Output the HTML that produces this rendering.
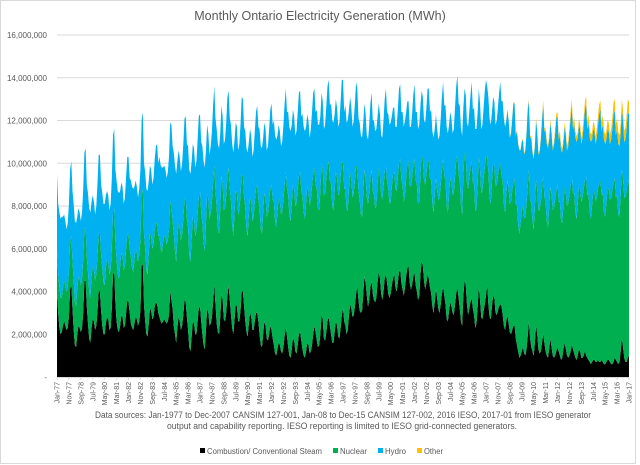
<!DOCTYPE html>
<html><head><meta charset="utf-8"><style>
html,body{margin:0;padding:0;background:#fff;}
#wrap{position:relative;width:640px;height:465px;overflow:hidden;font-family:"Liberation Sans",sans-serif;}
svg text{font-family:"Liberation Sans",sans-serif;}
</style></head><body>
<div id="wrap">
<svg id="chart" width="640" height="465" viewBox="0 0 640 465" xmlns="http://www.w3.org/2000/svg">
<rect x="0.5" y="0.5" width="635" height="463" fill="#fff" stroke="#d9d9d9"/>
<text x="320" y="20" text-anchor="middle" font-size="12.5" fill="#595959">Monthly Ontario Electricity Generation (MWh)</text>
<g id="grid"></g><g id="areas"></g><g id="yticks"></g><g id="xticks"></g>
<text x="343" y="418" text-anchor="middle" font-size="9" fill="#595959" textLength="496" lengthAdjust="spacingAndGlyphs">Data sources: Jan-1977 to Dec-2007 CANSIM 127-001, Jan-08 to Dec-15 CANSIM 127-002, 2016 IESO, 2017-01 from IESO generator</text>
<text x="342" y="429" text-anchor="middle" font-size="9" fill="#595959" textLength="350" lengthAdjust="spacingAndGlyphs">output and capability reporting. IESO reporting is limited to IESO grid-connected generators.</text>
<g>
<g><rect x="200" y="448" width="5" height="5" fill="#000"/><text x="207" y="454" font-size="8" fill="#595959" textLength="115" lengthAdjust="spacingAndGlyphs">Combustion/ Conventional Steam</text></g>
<g><rect x="333" y="448" width="5" height="5" fill="#00b050"/><text x="340" y="454" font-size="8" fill="#595959" textLength="27" lengthAdjust="spacingAndGlyphs">Nuclear</text></g>
<g><rect x="378" y="448" width="5" height="5" fill="#00b0f0"/><text x="385" y="454" font-size="8" fill="#595959" textLength="21" lengthAdjust="spacingAndGlyphs">Hydro</text></g>
<g><rect x="417" y="448" width="5" height="5" fill="#ffc000"/><text x="424" y="454" font-size="8" fill="#595959" textLength="19" lengthAdjust="spacingAndGlyphs">Other</text></g>
</g>
</svg></div>
<script>
// values in millions of MWh, monthly Jan-77 .. Jan-17
const coal = [
3.9,3.0,2.3,2.0,2.1,2.4,2.6,2.4,2.2,2.3,2.8,4.1,
4.3,3.2,2.2,1.5,1.4,2.0,2.4,2.3,2.1,2.3,3.0,4.5,
4.5,3.3,2.5,1.8,1.6,2.3,2.7,2.6,2.2,2.4,3.1,4.0,
4.0,3.1,2.4,2.0,2.0,2.5,2.8,2.7,2.2,2.3,3.2,4.8,
4.9,3.5,2.6,2.2,2.1,2.4,2.9,2.8,2.3,2.4,3.0,3.6,
3.5,3.0,2.5,2.3,2.2,2.5,2.8,2.7,2.4,2.6,3.1,5.2,
5.3,3.4,2.6,2.0,1.9,2.5,3.2,3.1,2.7,2.8,3.3,3.5,
3.4,3.0,2.8,2.6,2.5,2.6,2.7,2.6,2.5,2.6,2.9,4.0,
3.6,3.2,2.4,2.0,1.6,2.3,2.8,2.6,2.2,2.4,2.9,3.6,
3.5,2.8,2.2,1.4,1.2,1.9,2.6,2.5,2.0,2.0,2.6,3.2,
3.3,2.6,2.0,1.5,1.3,2.2,3.2,3.0,2.4,2.5,2.8,3.5,
4.3,3.4,2.5,2.1,2.0,2.8,3.9,3.6,2.7,2.6,3.0,3.8,
4.3,3.6,2.9,2.3,2.0,2.7,3.4,3.3,2.6,2.6,3.1,4.0,
4.0,3.3,2.6,2.1,1.9,2.5,3.0,2.8,2.2,2.2,2.6,3.0,
3.0,2.6,2.0,1.5,1.4,2.0,2.6,2.4,1.8,1.7,2.0,2.4,
2.2,1.8,1.5,1.1,1.0,1.3,1.6,1.5,1.2,1.1,1.4,1.9,
2.3,1.9,1.4,1.0,0.9,1.3,1.8,1.7,1.2,1.1,1.5,2.0,
2.1,1.7,1.3,1.0,0.9,1.2,1.6,1.5,1.1,1.2,1.5,2.0,
2.4,2.1,1.7,1.4,1.5,2.0,2.9,2.7,1.8,1.7,2.1,2.6,
2.8,2.4,2.0,1.6,1.6,2.1,2.6,2.4,1.9,1.8,2.3,2.9,
3.2,2.6,2.4,2.0,2.2,2.9,3.4,3.2,2.8,2.9,3.3,3.9,
4.2,3.6,3.1,3.0,3.1,3.9,4.7,4.4,3.8,3.3,3.6,4.2,
4.5,3.9,3.6,3.5,3.7,4.4,4.9,4.6,3.9,3.6,4.0,4.6,
4.8,4.4,3.9,3.7,3.9,4.3,4.6,4.8,4.2,4.0,4.4,4.9,
5.0,4.4,4.1,3.8,4.2,4.7,5.1,5.2,4.4,4.1,4.3,4.7,
4.9,4.3,4.0,3.6,3.8,4.8,5.4,5.2,4.5,4.1,4.4,4.8,
4.6,4.2,3.9,3.3,3.0,3.5,4.1,3.7,3.2,3.0,3.4,3.9,
4.2,3.8,3.4,2.7,2.6,3.1,3.5,3.3,3.0,2.9,3.4,3.9,
4.2,3.7,3.2,2.6,2.4,3.8,4.5,4.3,3.4,2.9,3.2,3.5,
3.7,3.2,2.9,2.3,2.5,3.3,4.2,3.6,2.8,2.7,3.1,3.4,
3.8,4.3,3.4,2.8,2.7,3.3,3.8,3.7,3.0,2.9,3.1,3.3,
3.4,3.3,2.9,2.4,2.2,2.6,2.9,2.5,2.1,2.0,2.2,2.4,
2.4,1.8,1.5,1.2,0.9,1.0,1.2,1.4,1.1,1.0,1.3,1.9,
2.6,1.8,1.4,1.2,1.0,1.6,2.4,2.0,1.3,1.1,1.2,1.6,
2.0,1.6,1.2,1.0,0.9,1.3,1.8,1.4,1.0,0.9,1.0,1.2,
1.4,1.2,1.0,0.8,0.9,1.3,1.6,1.3,1.0,0.9,1.0,1.2,
1.5,1.3,1.1,0.9,0.8,1.0,1.3,1.2,0.9,0.9,1.0,1.2,
1.0,0.9,0.8,0.7,0.6,0.7,0.8,0.8,0.7,0.7,0.8,0.7,
0.7,0.8,0.7,0.6,0.6,0.7,0.8,0.8,0.7,0.6,0.6,0.7,
0.9,0.8,0.7,0.6,0.7,1.2,1.8,1.4,0.9,0.7,0.7,0.9,
1.0];
const nuclear = [
2.0,1.8,1.9,1.7,1.6,1.8,1.9,1.9,1.8,1.9,2.1,2.2,
2.3,2.2,2.3,2.0,1.9,2.1,2.3,2.3,2.2,2.3,2.5,2.4,
2.5,2.3,2.4,2.2,2.1,2.4,2.5,2.4,2.3,2.4,2.6,2.7,
2.8,2.6,2.7,2.4,2.3,2.6,2.7,2.7,2.6,2.7,2.8,2.9,
3.0,2.8,2.9,2.6,2.5,2.8,2.9,2.9,2.7,2.8,3.0,3.1,
3.2,3.0,3.1,2.8,2.7,3.0,3.2,3.1,3.0,3.1,3.3,3.3,
3.5,3.3,3.4,3.0,2.9,3.3,3.5,3.5,3.3,3.4,3.6,3.7,
3.8,3.6,3.8,3.4,3.3,3.7,3.9,3.9,3.7,3.8,4.0,4.2,
4.4,4.1,4.3,3.9,3.8,4.2,4.4,4.4,4.2,4.3,4.5,4.7,
4.9,4.6,4.8,4.3,4.2,4.6,4.9,4.9,4.6,4.8,5.0,5.2,
5.4,5.1,5.2,4.8,4.6,5.0,5.4,5.3,5.0,5.2,5.4,5.6,
5.6,5.3,5.4,4.9,4.7,5.1,5.5,5.4,5.1,5.3,5.5,5.6,
5.5,5.2,5.3,4.8,4.6,5.0,5.3,5.3,5.0,5.2,5.4,5.5,
5.4,5.1,5.3,4.8,4.7,5.1,5.4,5.4,5.1,5.3,5.6,5.8,
6.0,5.7,5.9,5.4,5.3,5.7,6.0,6.0,5.7,5.9,6.2,6.4,
6.8,6.5,6.7,6.2,6.0,6.4,6.8,6.7,6.4,6.6,6.9,7.1,
7.3,6.9,7.1,6.6,6.4,6.8,7.2,7.1,6.8,7.0,7.3,7.4,
7.5,7.0,7.2,6.7,6.5,6.9,7.3,7.2,6.9,7.1,7.4,7.5,
7.4,6.9,7.1,6.5,6.3,6.7,7.1,7.0,6.7,6.9,7.2,7.3,
7.3,6.8,7.0,6.4,6.2,6.6,7.0,6.9,6.6,6.8,7.1,7.2,
6.8,6.2,6.4,5.8,5.6,5.9,6.2,6.0,5.6,5.7,5.9,6.0,
5.6,5.1,5.2,4.6,4.4,4.7,5.0,4.9,4.6,4.8,5.0,5.1,
5.2,4.8,4.9,4.4,4.3,4.6,4.9,4.8,4.6,4.7,4.9,5.0,
5.1,4.7,4.9,4.4,4.3,4.6,4.9,4.8,4.6,4.7,4.9,5.1,
5.2,4.8,4.9,4.4,4.3,4.6,4.9,4.9,4.6,4.8,5.0,5.2,
5.3,4.9,5.0,4.5,4.4,4.7,5.0,5.0,4.7,4.9,5.1,5.3,
5.5,5.1,5.3,4.8,4.7,5.0,5.2,5.0,5.1,5.4,5.6,5.8,
6.0,5.6,5.8,5.3,5.1,5.4,5.8,5.8,5.5,5.7,6.0,6.2,
6.3,5.8,6.0,5.4,5.2,5.6,6.0,6.0,5.7,5.9,6.1,6.3,
6.4,5.9,6.1,5.5,5.3,5.7,6.1,6.1,5.8,6.0,6.2,6.4,
6.5,6.0,6.2,5.6,5.4,5.8,6.2,6.2,5.9,6.1,6.3,6.5,
6.6,6.1,6.3,5.7,5.5,5.9,6.3,6.3,6.0,6.2,6.5,6.7,
6.9,6.3,6.5,5.9,5.8,6.2,6.6,6.6,6.3,6.5,6.8,7.0,
7.1,6.5,6.7,6.1,5.9,6.3,6.8,6.8,6.5,6.7,7.0,7.2,
7.4,6.8,7.0,6.3,6.1,6.6,7.1,7.1,6.8,7.0,7.3,7.5,
7.6,7.0,7.2,6.5,6.3,6.8,7.3,7.3,7.0,7.2,7.5,7.7,
7.9,7.3,7.5,6.8,6.6,7.1,7.6,7.6,7.3,7.5,7.8,8.0,
8.4,7.6,7.8,7.0,6.8,7.3,7.9,7.9,7.5,7.7,8.0,8.3,
8.5,7.7,7.9,7.1,6.9,7.4,8.0,8.0,7.6,7.8,8.1,8.4,
8.4,7.6,7.8,7.0,6.8,7.3,7.9,7.9,7.5,7.7,8.0,8.3,
8.0];
const hydro = [
3.6,3.3,3.5,3.7,3.8,3.3,3.1,3.0,2.9,3.0,3.2,3.4,
3.5,3.3,3.6,3.8,3.9,3.4,3.2,3.1,3.0,3.1,3.3,3.6,
3.7,3.4,3.7,3.9,4.0,3.5,3.3,3.2,3.1,3.2,3.4,3.7,
3.6,3.3,3.5,3.7,3.8,3.4,3.2,3.1,3.0,3.1,3.3,3.6,
3.7,3.4,3.7,3.9,4.0,3.5,3.3,3.2,3.1,3.2,3.4,3.6,
3.6,3.3,3.6,3.8,3.9,3.4,3.2,3.1,3.0,3.1,3.3,3.5,
3.6,3.3,3.6,3.8,3.9,3.4,3.2,3.1,3.0,3.1,3.3,3.6,
3.7,3.4,3.7,3.9,4.0,3.5,3.3,3.2,3.1,3.2,3.4,3.7,
3.8,3.5,3.8,4.0,4.1,3.6,3.4,3.3,3.2,3.3,3.5,3.8,
3.8,3.5,3.8,4.0,4.1,3.6,3.4,3.3,3.2,3.3,3.5,3.8,
3.6,3.3,3.6,3.8,3.9,3.4,3.2,3.1,3.0,3.1,3.3,3.6,
3.7,3.4,3.7,3.9,4.0,3.5,3.3,3.2,3.1,3.2,3.4,3.7,
3.6,3.3,3.6,3.8,3.9,3.4,3.2,3.1,3.0,3.1,3.3,3.6,
3.6,3.3,3.6,3.8,3.9,3.4,3.2,3.1,3.0,3.1,3.3,3.6,
3.7,3.4,3.7,3.9,4.0,3.5,3.3,3.2,3.1,3.2,3.4,3.7,
3.8,3.5,3.8,4.0,4.1,3.6,3.4,3.3,3.2,3.3,3.5,3.8,
3.9,3.6,3.9,4.1,4.2,3.7,3.5,3.4,3.3,3.4,3.6,3.9,
3.8,3.5,3.8,4.0,4.1,3.6,3.4,3.3,3.2,3.3,3.5,3.8,
3.7,3.4,3.7,3.9,4.0,3.5,3.3,3.2,3.1,3.2,3.4,3.7,
3.8,3.5,3.8,4.0,4.1,3.6,3.4,3.3,3.2,3.3,3.5,3.8,
3.9,3.6,3.9,4.1,4.2,3.7,3.5,3.4,3.3,3.4,3.6,3.9,
3.7,3.4,3.6,3.7,3.7,3.3,3.1,3.0,2.9,3.0,3.2,3.5,
3.6,3.3,3.5,3.6,3.6,3.2,3.0,2.9,2.8,2.9,3.1,3.4,
3.6,3.3,3.5,3.7,3.7,3.3,3.1,3.0,2.9,3.0,3.2,3.5,
3.5,3.2,3.4,3.5,3.5,3.1,2.9,2.8,2.7,2.8,3.0,3.3,
3.5,3.2,3.4,3.5,3.6,3.2,3.0,2.9,2.8,2.9,3.1,3.4,
3.4,3.1,3.3,3.4,3.5,3.1,3.0,2.9,2.8,2.9,3.1,3.4,
3.6,3.3,3.5,3.7,3.7,3.3,3.1,3.0,2.9,3.0,3.2,3.5,
3.6,3.3,3.5,3.6,3.7,3.2,3.0,2.9,2.8,2.9,3.1,3.4,
3.7,3.4,3.6,3.8,3.8,3.4,3.2,3.1,3.0,3.1,3.3,3.6,
3.6,3.3,3.5,3.7,3.7,3.3,3.1,3.0,2.9,3.0,3.2,3.5,
3.8,3.5,3.7,4.0,4.0,3.5,3.3,3.2,3.1,3.2,3.4,3.7,
3.5,3.2,3.5,3.8,3.9,3.4,3.2,3.1,3.0,3.1,3.3,3.6,
3.2,2.9,3.1,3.2,3.3,2.9,2.8,2.7,2.6,2.7,2.9,3.2,
3.4,3.1,3.3,3.6,3.7,3.2,3.0,2.9,2.8,2.9,3.1,3.4,
3.2,2.9,3.1,3.3,3.3,2.9,2.8,2.7,2.6,2.7,2.9,3.2,
3.3,3.0,3.2,3.5,3.6,3.1,2.9,2.8,2.7,2.8,3.0,3.3,
3.4,3.1,3.3,3.5,3.6,3.1,2.9,2.8,2.7,2.8,3.0,3.3,
3.3,3.0,3.2,3.4,3.4,3.0,2.8,2.7,2.6,2.7,2.9,3.2,
3.2,2.9,3.1,3.3,3.3,2.9,2.8,2.7,2.6,2.7,2.9,3.2,
3.3];
// "Other" begins Jan-08 (month index 372)
const otherStartIndex = 372;
const other = [
0.02,0.02,0.03,0.03,0.03,0.03,0.03,0.03,0.03,0.04,0.04,0.05,
0.05,0.05,0.06,0.06,0.06,0.05,0.04,0.05,0.06,0.07,0.08,0.08,
0.09,0.08,0.09,0.10,0.09,0.08,0.10,0.09,0.10,0.12,0.13,0.15,
0.16,0.15,0.16,0.17,0.15,0.14,0.15,0.14,0.16,0.19,0.21,0.22,
0.22,0.21,0.23,0.24,0.21,0.20,0.22,0.20,0.22,0.26,0.28,0.29,
0.29,0.27,0.30,0.31,0.27,0.25,0.27,0.26,0.29,0.33,0.36,0.37,
0.37,0.35,0.38,0.39,0.35,0.32,0.35,0.33,0.36,0.41,0.44,0.45,
0.44,0.42,0.46,0.47,0.43,0.40,0.43,0.41,0.45,0.50,0.52,0.54,
0.52,0.50,0.55,0.56,0.50,0.47,0.50,0.48,0.52,0.57,0.60,0.61,
0.55];
const yTickValues = [0,2,4,6,8,10,12,14,16];
const yTickLabels = ["-","2,000,000","4,000,000","6,000,000","8,000,000","10,000,000","12,000,000","14,000,000","16,000,000"];
const monthNames = ["Jan","Feb","Mar","Apr","May","Jun","Jul","Aug","Sep","Oct","Nov","Dec"];
const startYear = 1977;
const labelEvery = 10;

const NS = "http://www.w3.org/2000/svg";
const X0 = 57, X1 = 629, Y0 = 377, YTOP = 35, YMAX = 16;
const n = coal.length;
function xs(i){ return X0 + i * (X1 - X0) / (n - 1); }
function ys(v){ return Y0 - v / YMAX * (Y0 - YTOP); }

const grid = document.getElementById('grid');
const yt = document.getElementById('yticks');
yTickValues.forEach((v, k) => {
  if (v > 0) {
    const l = document.createElementNS(NS, 'line');
    l.setAttribute('x1', X0); l.setAttribute('x2', X1);
    l.setAttribute('y1', ys(v)); l.setAttribute('y2', ys(v));
    l.setAttribute('stroke', '#d9d9d9'); l.setAttribute('stroke-width', '1');
    
    
    grid.appendChild(l);
  }
  const t = document.createElementNS(NS, 'text');
  t.setAttribute('x', 47); t.setAttribute('y', ys(v) + 3);
  t.setAttribute('text-anchor', 'end'); t.setAttribute('font-size', '8');
  t.setAttribute('fill', '#595959');
  t.textContent = yTickLabels[k];
  
  
  yt.appendChild(t);
});

const otherFull = coal.map((_, i) => i >= otherStartIndex ? (other[i - otherStartIndex] || 0) : 0);
const series = [
  {vals: coal, color: '#000000', name: 'area-combustion'},
  {vals: nuclear, color: '#00b050', name: 'area-nuclear'},
  {vals: hydro, color: '#00b0f0', name: 'area-hydro'},
  {vals: otherFull, color: '#ffc000', name: 'area-other'}
];
const base = new Array(n).fill(0);
const areas = document.getElementById('areas');
series.forEach(s => {
  const top = base.map((b, i) => b + (s.vals[i] || 0));
  let d = 'M' + xs(0) + ',' + ys(top[0]);
  for (let i = 1; i < n; i++) d += 'L' + xs(i).toFixed(2) + ',' + ys(top[i]).toFixed(2);
  for (let i = n - 1; i >= 0; i--) d += 'L' + xs(i).toFixed(2) + ',' + ys(base[i]).toFixed(2);
  d += 'Z';
  const p = document.createElementNS(NS, 'path');
  p.setAttribute('d', d); p.setAttribute('fill', s.color);
  
  
  areas.appendChild(p);
  for (let i = 0; i < n; i++) base[i] = top[i];
});

const axis = document.createElementNS(NS, 'line');
axis.setAttribute('x1', X0); axis.setAttribute('x2', X1);
axis.setAttribute('y1', Y0 + 0.5); axis.setAttribute('y2', Y0 + 0.5);
axis.setAttribute('stroke', '#d9d9d9');


document.getElementById('xticks').appendChild(axis);

const xt = document.getElementById('xticks');
for (let i = 0; i < n; i += labelEvery) {
  const m = i % 12, yr = (startYear + Math.floor(i / 12)) % 100;
  const label = monthNames[m] + '-' + String(yr).padStart(2, '0');
  const x = xs(i);
  const tk = document.createElementNS(NS, 'line');
  tk.setAttribute('x1', x); tk.setAttribute('x2', x);
  tk.setAttribute('y1', Y0); tk.setAttribute('y2', Y0 + 3);
  tk.setAttribute('stroke', '#d9d9d9');
  
  
  xt.appendChild(tk);
  const t = document.createElementNS(NS, 'text');
  t.setAttribute('transform', 'translate(' + (x + 2.5) + ',' + (Y0 + 5) + ') rotate(-90)');
  t.setAttribute('text-anchor', 'end'); t.setAttribute('font-size', '7');
  t.setAttribute('fill', '#595959');
  t.textContent = label;
  
  
  xt.appendChild(t);
}
</script>
</body></html>
